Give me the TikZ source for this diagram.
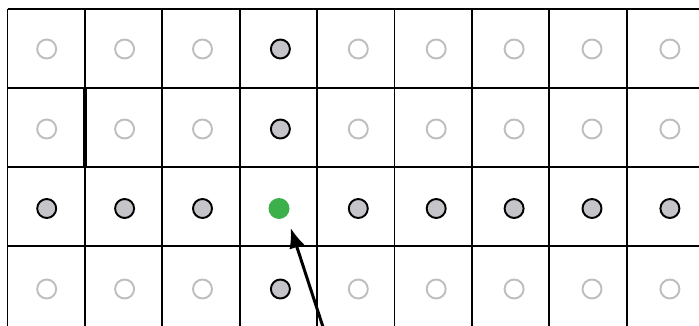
\documentclass[tikz,border=0pt]{standalone}
\usepackage{tikz}
\usepackage{xcolor}
\usetikzlibrary{arrows.meta}
\definecolor{ringgray}{RGB}{190,190,190}
\definecolor{sitefill}{RGB}{196,196,201}
\definecolor{dotgreen}{RGB}{60,176,74}

\begin{document}
\begin{tikzpicture}[
    x=0.02cm,y=-0.02cm,
    gridline/.style={line width=1.1pt,draw=black},
    far/.style={circle,draw=ringgray,fill=white,line width=1.1pt,
      minimum size=0.38cm,inner sep=0pt},
    near/.style={circle,draw=black,fill=sitefill,line width=1.1pt,
      minimum size=0.38cm,inner sep=0pt},
    target/.style={circle,fill=dotgreen,draw=none,
      minimum size=0.42cm,inner sep=0pt},
    arrow/.style={-{Latex[length=4mm,width=3.2mm]},line width=1.7pt}
  ]
    \useasboundingbox (0,0) rectangle (699,325);
    \clip (0,0) rectangle (699,325);
    % lattice
    \foreach \i in {0,...,8}
      \draw[gridline] (7.5+77.4*\i,9) -- (7.5+77.4*\i,340);
    \foreach \y in {9,88,167,246}
      \draw[gridline] (7.5,\y) -- (720,\y);
    \draw[line width=2pt] (84.9,88) -- (84.9,167);
    % sites
    \foreach \j/\y in {0/49,1/129,3/289}
      \foreach \i in {0,1,2,4,5,6,7,8}
        \node[far] (s-\i-\j) at (46.7+77.9*\i,\y) {};
    \foreach \j/\y in {0/49,1/129,3/289}
      \node[near] (s-3-\j) at (280.4,\y) {};
    \foreach \i in {0,1,2,4,5,6,7,8}
      \node[near] (s-\i-2) at (46.7+77.9*\i,208.5) {};
    \node[target] (s-3-2) at (279,208.5) {};
    % pointer
    \coordinate (tail) at (324,330);
    \draw[arrow,shorten >=0.25cm] (tail) -- (s-3-2.-44);
  \end{tikzpicture}
\end{document}
